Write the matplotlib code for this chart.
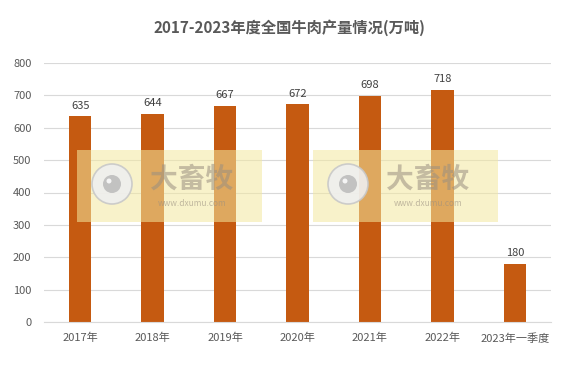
import matplotlib.pyplot as plt
from matplotlib.patches import Rectangle, Ellipse

plt.rcParams['font.family'] = ['Noto Sans CJK SC', 'DejaVu Sans']

# 数据
categories = ["2017年", "2018年", "2019年", "2020年", "2021年", "2022年", "2023年一季度"]
values = [635, 644, 667, 672, 698, 718, 180]

W, H = 578, 365
fig = plt.figure(figsize=(W / 100, H / 100), dpi=100)
ax = fig.add_axes([44 / W, 43 / H, 507 / W, 259 / H])

x = range(len(categories))
bars = ax.bar(x, values, width=0.31, color="#C55A11", zorder=2)
for xi, v in zip(x, values):
    ax.text(xi, v + 18, str(v), ha="center", va="bottom", fontsize=8, color="#404040")

ax.set_xlim(-0.5, len(categories) - 0.5)
ax.set_ylim(0, 800)
ax.set_yticks(range(0, 801, 100))
ax.set_xticks(list(x))
ax.set_xticklabels(categories)
ax.tick_params(axis="both", length=0, labelsize=8, colors="#595959")
ax.tick_params(axis="x", pad=8)
ax.tick_params(axis="y", pad=9)
ax.grid(axis="y", color="#D9D9D9", linewidth=0.8, zorder=0)
for s in ["top", "right", "left"]:
    ax.spines[s].set_visible(False)
ax.spines["bottom"].set_color("#D9D9D9")

fig.text(0.5, 1 - 28 / H, "2017-2023年度全国牛肉产量情况(万吨)", ha="center", va="center",
         fontsize=11, fontweight="bold", color="#595959")

# 水印 (大畜牧)
for x0 in [77, 313]:
    fig.patches.append(Rectangle((x0 / W, 1 - 222 / H), 185 / W, 72 / H, transform=fig.transFigure,
                                 facecolor="#F3E9A0", alpha=0.55, edgecolor="none", zorder=5))
    cx, cy = (x0 + 35) / W, 1 - 184 / H
    fig.patches.append(Ellipse((cx, cy), 40 / W, 40 / H, transform=fig.transFigure,
                               facecolor="#EFEFEF", edgecolor="#C8C8C8", lw=1.2, alpha=0.9, zorder=6))
    fig.patches.append(Ellipse((cx, cy), 18 / W, 18 / H, transform=fig.transFigure,
                               facecolor="#BDBDBD", edgecolor="none", alpha=0.9, zorder=7))
    fig.patches.append(Ellipse((cx - 3 / W, cy + 3 / H), 5 / W, 5 / H, transform=fig.transFigure,
                               facecolor="#F5F5F5", edgecolor="none", zorder=8))
    fig.text((x0 + 115) / W, 1 - 180 / H, "大畜牧", ha="center", va="center", fontsize=20,
             fontweight="bold", color="#9A8F80", alpha=0.55, zorder=8)
    fig.text((x0 + 115) / W, 1 - 204 / H, "www.dxumu.com", ha="center", va="center", fontsize=6,
             color="#9A8F80", alpha=0.6, zorder=8)

fig.savefig("out.png", dpi=100)
